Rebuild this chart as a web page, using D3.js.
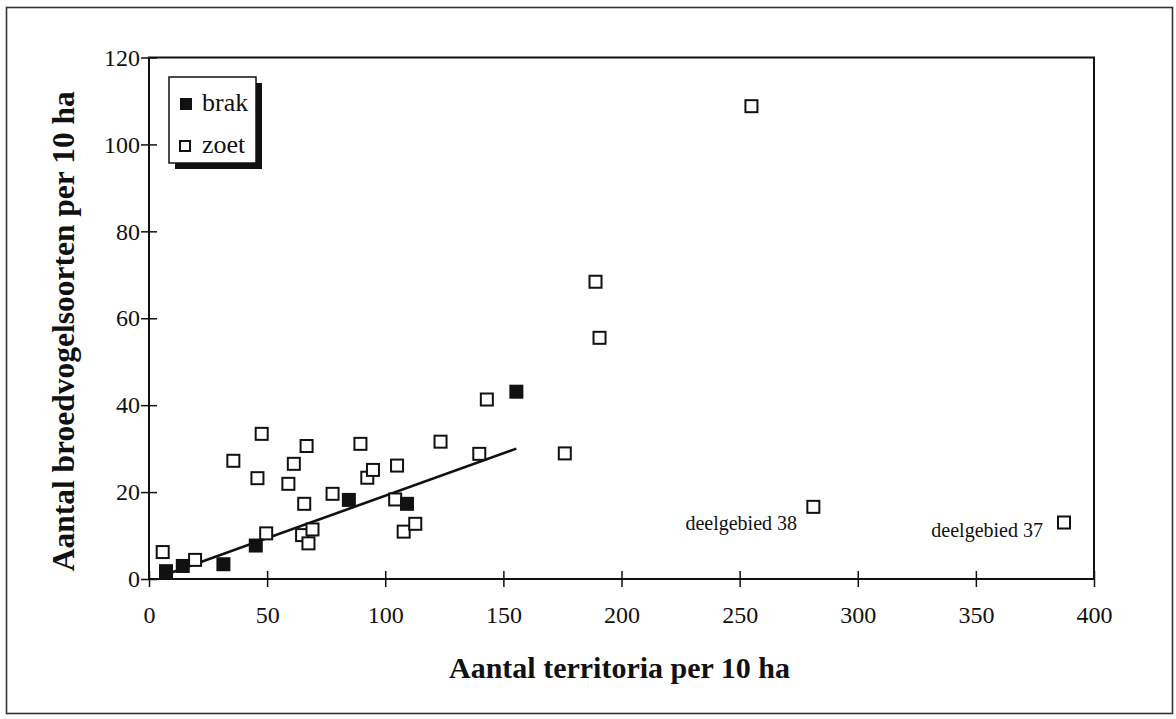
<!DOCTYPE html>
<html>
<head>
<meta charset="utf-8">
<script src="https://cdn.jsdelivr.net/npm/d3@7"></script>
<style>
  html, body { margin: 0; padding: 0; background: #fff; }
  svg { display: block; }
  svg text { font-family: "Liberation Serif", "Times New Roman", Times, serif !important; fill: #111; }
</style>
</head>
<body>
<svg id="chart" width="1176" height="719"></svg>
<script>
// ---- data ----
const brakX = [7.2, 14.3, 31.5, 45.2, 84.6, 109.2, 155.5];
const brakY = [1.8, 3.0, 3.4, 7.7, 18.2, 17.3, 43.1];

const zoetX = [5.8, 19.5, 35.7, 47.7, 45.9, 49.6, 59.0, 61.3, 66.7, 65.7, 64.8, 67.5, 69.2, 77.7, 89.5,
               92.4, 94.8, 105.0, 104.2, 107.8, 112.7, 123.4, 139.8, 143.0, 176.0, 189.0, 190.7, 255.0, 281.2, 387.3];
const zoetY = [6.2, 4.4, 27.2, 33.4, 23.2, 10.5, 21.9, 26.5, 30.6, 17.3, 10.1, 8.2, 11.4, 19.6, 31.1,
               23.3, 25.1, 26.1, 18.3, 10.9, 12.7, 31.6, 28.8, 41.3, 28.9, 68.4, 55.5, 108.8, 16.6, 13.0];

const trendX = [7, 155.5];
const trendY = [1.0, 30.0];

const xTicks = [0, 50, 100, 150, 200, 250, 300, 350, 400];
const yTicks = [0, 20, 40, 60, 80, 100, 120];

const seriesNames = ["brak", "zoet"];
const annotLabels = ["deelgebied 38", "deelgebied 37"];
const annotX = [274.3, 378.4];
const annotY = [11.3, 9.7];

const xTitle = "Aantal territoria per 10 ha";
const yTitle = "Aantal broedvogelsoorten per 10 ha";

// ---- layout ----
const FONT = '"Liberation Serif", "Times New Roman", Times, serif';
const svg = d3.select("#chart");
const plot = { left: 149, right: 1094, top: 57.5, bottom: 579 };

const x = d3.scaleLinear().domain([0, 400]).range([plot.left, plot.right]);
const y = d3.scaleLinear().domain([0, 120]).range([plot.bottom, plot.top]);

// outer frame
svg.append("rect")
  .attr("x", 6.5).attr("y", 7.5).attr("width", 1166).attr("height", 706)
  .attr("fill", "none").attr("stroke", "#333").attr("stroke-width", 1.6);

// plot box
svg.append("rect")
  .attr("x", plot.left).attr("y", plot.top)
  .attr("width", plot.right - plot.left).attr("height", plot.bottom - plot.top)
  .attr("fill", "none").attr("stroke", "#111").attr("stroke-width", 2);

// axes
const xAxis = d3.axisBottom(x).tickValues(xTicks).tickSize(8).tickPadding(19).tickFormat(d3.format("d"));
const gx = svg.append("g").attr("transform", `translate(0,${plot.bottom})`).call(xAxis)
  .attr("font-family", null).attr("font-size", null);
gx.select(".domain").remove();
gx.selectAll(".tick line").attr("y1", -8).attr("stroke", "#111").attr("stroke-width", 1.5);
gx.selectAll(".tick text").style("font-size", "24px").style("font-family", FONT).attr("fill", "#111");

const yAxis = d3.axisLeft(y).tickValues(yTicks).tickSize(8).tickPadding(1).tickFormat(d3.format("d"));
const gy = svg.append("g").attr("transform", `translate(${plot.left},0)`).call(yAxis)
  .attr("font-family", null).attr("font-size", null);
gy.select(".domain").remove();
gy.selectAll(".tick line").attr("x1", 8).attr("stroke", "#111").attr("stroke-width", 1.5);
gy.selectAll(".tick text").style("font-size", "24px").style("font-family", FONT).attr("fill", "#111");

// axis titles
svg.append("text")
  .attr("x", (plot.left + plot.right) / 2 - 2).attr("y", 678)
  .attr("text-anchor", "middle").style("font-weight", "bold").style("font-size", "30px")
  .text(xTitle);

svg.append("text")
  .attr("transform", `translate(74,${(plot.top + plot.bottom) / 2 + 13}) rotate(-90)`)
  .attr("text-anchor", "middle").style("font-weight", "bold").style("font-size", "31.5px")
  .text(yTitle);

// trend line
const trend = trendX.map((v, i) => [v, trendY[i]]);
svg.append("path")
  .datum(trend)
  .attr("d", d3.line().x(d => x(d[0])).y(d => y(d[1])))
  .attr("fill", "none").attr("stroke", "#111").attr("stroke-width", 2.6);

// zoet (open squares)
const zoet = zoetX.map((v, i) => ({ x: v, y: zoetY[i] }));
const sq = 12;
svg.append("g").selectAll("rect").data(zoet).join("rect")
  .attr("x", d => x(d.x) - sq / 2).attr("y", d => y(d.y) - sq / 2)
  .attr("width", sq).attr("height", sq)
  .attr("fill", "#fff").attr("stroke", "#111").attr("stroke-width", 2);

// brak (filled squares)
const brak = brakX.map((v, i) => ({ x: v, y: brakY[i] }));
const fs = 14;
svg.append("g").selectAll("rect").data(brak).join("rect")
  .attr("x", d => x(d.x) - fs / 2).attr("y", d => y(d.y) - fs / 2)
  .attr("width", fs).attr("height", fs)
  .attr("fill", "#111");

// annotations
svg.append("g").selectAll("text").data(annotLabels).join("text")
  .attr("x", (d, i) => x(annotX[i])).attr("y", (d, i) => y(annotY[i]))
  .attr("text-anchor", "end").style("font-size", "20px")
  .text(d => d);

// legend
const lg = { x: 169, y: 77, w: 87, h: 86, sh: 6 };
svg.append("rect")
  .attr("x", lg.x + lg.sh).attr("y", lg.y + lg.sh).attr("width", lg.w).attr("height", lg.h)
  .attr("fill", "#111");
svg.append("rect")
  .attr("x", lg.x).attr("y", lg.y).attr("width", lg.w).attr("height", lg.h)
  .attr("fill", "#fff").attr("stroke", "#111").attr("stroke-width", 1.5);

const legRows = svg.append("g").selectAll("g").data(seriesNames).join("g")
  .attr("transform", (d, i) => `translate(${lg.x}, ${lg.y + 27 + i * 42})`);
legRows.append("rect")
  .attr("x", 11).attr("y", (d, i) => i === 0 ? -6 : -5)
  .attr("width", (d, i) => i === 0 ? 12 : 10).attr("height", (d, i) => i === 0 ? 12 : 10)
  .attr("fill", (d, i) => i === 0 ? "#111" : "#fff")
  .attr("stroke", "#111").attr("stroke-width", (d, i) => i === 0 ? 0 : 2);
legRows.append("text")
  .attr("x", 33).attr("y", 7)
  .style("font-size", "26px")
  .text(d => d);
</script>
</body>
</html>
